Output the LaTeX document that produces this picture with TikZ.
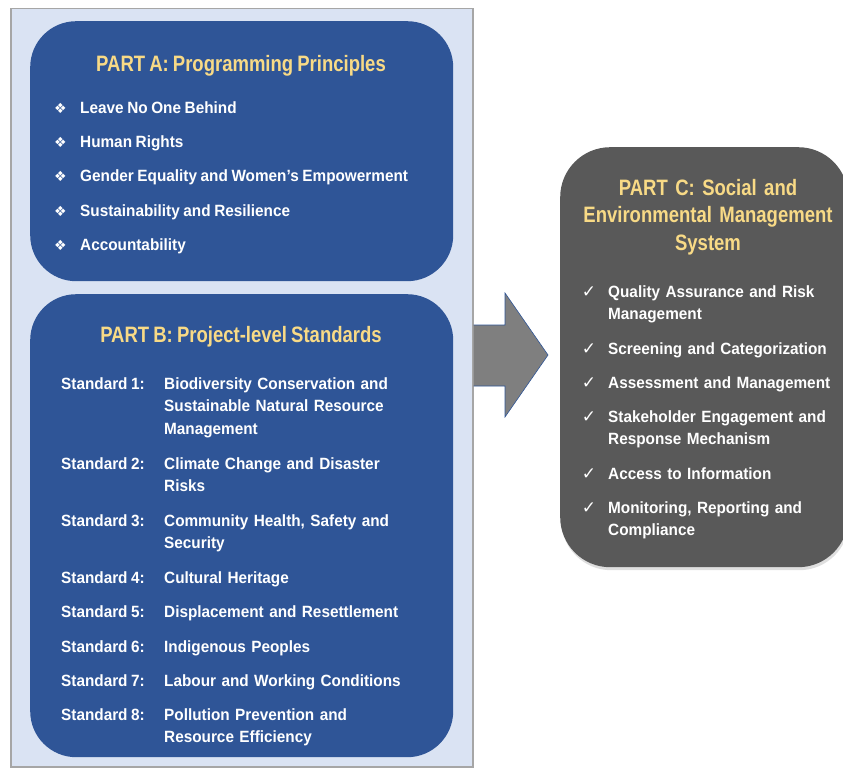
\documentclass[tikz,border=0pt]{standalone}
\usepackage{fontspec}
\setmainfont{Liberation Sans}[FakeStretch=0.94,WordSpace=0.85]
\newfontfamily\titlefont{Liberation Sans}[FakeStretch=0.83,WordSpace=0.8]
\newfontfamily\symfont{DejaVu Sans}
\usetikzlibrary{shadows}
\definecolor{partblue}{HTML}{2F5597}
\definecolor{paleblue}{HTML}{DAE3F3}
\definecolor{partgray}{HTML}{595959}
\definecolor{arrowgray}{HTML}{7F7F7F}
\definecolor{titleyellow}{HTML}{F8DA86}
\definecolor{framegray}{HTML}{A6A6A6}
\tikzset{
	partbox/.style={rounded corners=46pt,anchor=north west,inner sep=0pt},
	parttitle/.style={text=titleyellow,font=\titlefont\fontsize{22.3}{27.5}\selectfont\bfseries,align=center,anchor=base},
	itemtext/.style={text=white,font=\fontsize{16.3}{22.8}\selectfont\bfseries,anchor=base west,inner sep=0pt},
	bulletmark/.style={text=white,font=\symfont\fontsize{14}{14}\selectfont,anchor=base,inner sep=0pt},
	checkmark/.style={text=white,font=\symfont\fontsize{17}{17}\selectfont,anchor=base,inner sep=0pt},
}
\begin{document}
\begin{tikzpicture}[x=1pt,y=-1pt]
	\clip (0,0) rectangle (843,768);
	\fill[white] (0,0) rectangle (843,768);
	
	% left frame with parts A and B
	\node (frame) at (10,8) [draw=framegray,line width=1.5pt,fill=paleblue,minimum width=462,minimum height=758,anchor=north west,inner sep=0pt] {};
	\node (partA) at (30,21) [partbox,fill=partblue,minimum width=423,minimum height=260] {};
	\node (partB) at (30,294) [partbox,fill=partblue,minimum width=423,minimum height=463] {};
	
	% block arrow
	\draw[fill=arrowgray,draw=partblue,line width=0.6pt] (frame.east |- 0,325) -- (505,325) -- (505,293) -- (548,355) -- (505,417) -- (505,386) -- (frame.east |- 0,386);
	
	% part C
	\node (partC) at (560,147) [partbox,fill=partgray,minimum width=288,minimum height=420,rounded corners=50pt,drop shadow={shadow xshift=1pt,shadow yshift=-3pt,opacity=0.25}] {};
	
	\node (titleA) at (241,71) [parttitle] {PART A: Programming Principles};
	\node (titleB) at (241,342) [parttitle] {PART B: Project-level Standards};
	\node (titleC) at (708,195) [parttitle,text width=270] {PART C: Social and\\Environmental Management\\System};
	
	\foreach \y/\txt [count=\i] in {113/Leave No One Behind,147.5/Human Rights,181.5/Gender Equality and Women’s Empowerment,216/Sustainability and Resilience,250/Accountability}{
		\node (bulletA\i) at (60.5,\y) [bulletmark] {❖};
		\node (itemA\i) at (80,\y) [itemtext] {\txt};
	}
	
	\foreach \y/\num/\txt in {389/1/{Biodiversity Conservation and\\Sustainable Natural Resource\\Management},469/2/{Climate Change and Disaster\\Risks},526/3/{Community Health, Safety and\\Security},583/4/{Cultural Heritage},617/5/{Displacement and Resettlement},652/6/{Indigenous Peoples},686/7/{Labour and Working Conditions},720/8/{Pollution Prevention and\\Resource Efficiency}}{
		\node (stdB\num) at (61,\y) [itemtext] {Standard \num:};
		\node (itemB\num) at (164,\y) [itemtext,text width=280,align=left] {\txt};
	}
	
	\foreach \y/\txt [count=\i] in {297/{Quality Assurance and Risk\\Management},354/{Screening and Categorization},388/{Assessment and Management},422/{Stakeholder Engagement and\\Response Mechanism},479/{Access to Information},513/{Monitoring, Reporting and\\Compliance}}{
		\node (checkC\i) at (589,\y) [checkmark] {✓};
		\node (itemC\i) at (608,\y) [itemtext,text width=230,align=left] {\txt};
	}
\end{tikzpicture}
\end{document}
